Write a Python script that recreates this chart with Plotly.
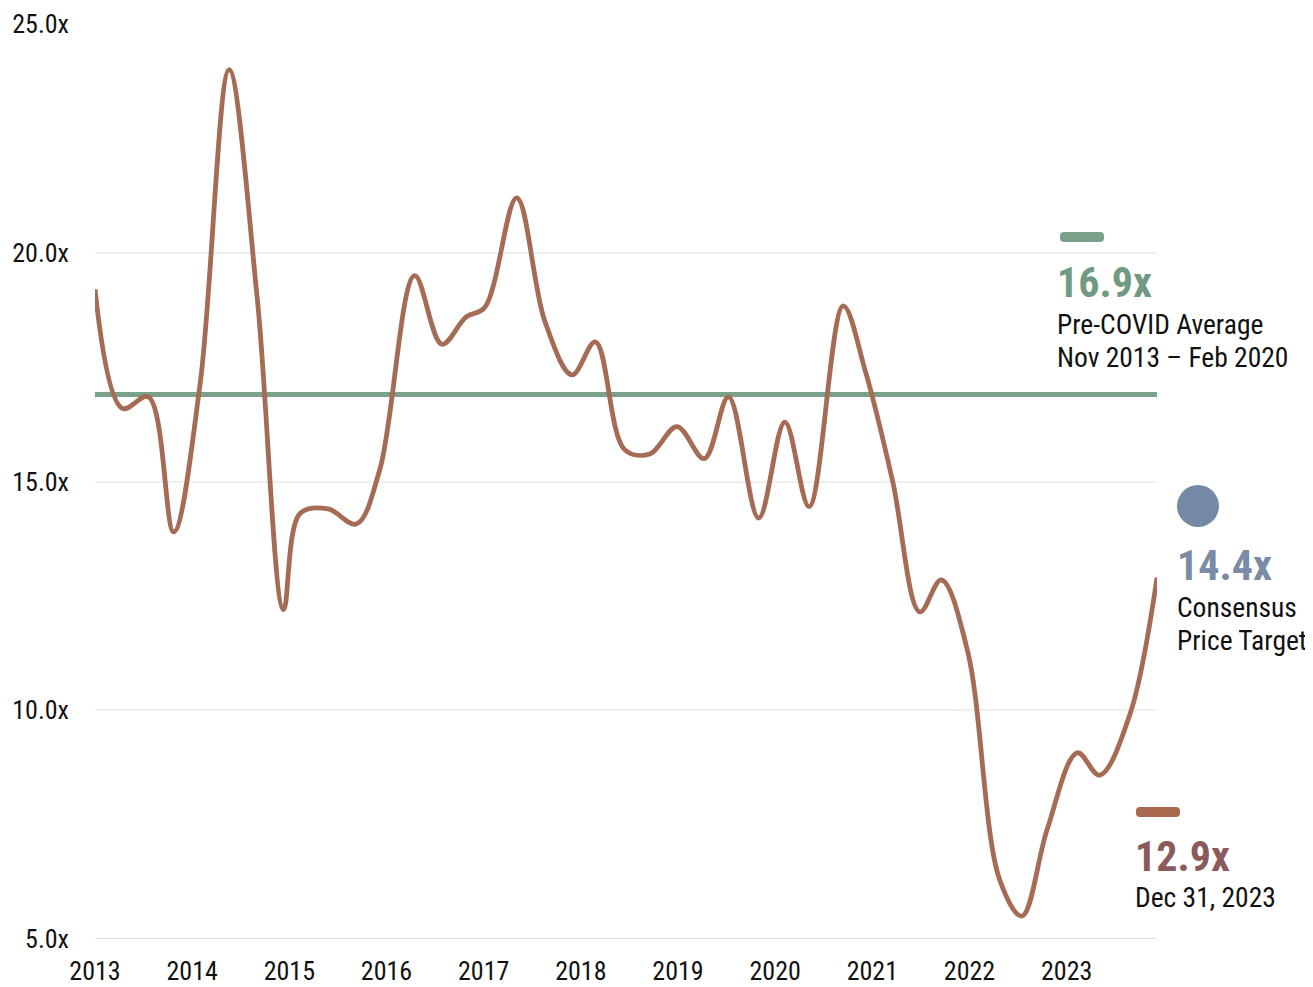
import plotly.graph_objects as go

# Decimal-year positions and P/E multiple values
years = [2013.00, 2013.28, 2013.55, 2013.81, 2014.08, 2014.38, 2014.67, 2014.94,
         2015.11, 2015.40, 2015.69, 2015.93, 2016.29, 2016.57, 2016.82, 2017.01,
         2017.34, 2017.63, 2017.91, 2018.15, 2018.45, 2018.71, 2018.99, 2019.27,
         2019.52, 2019.83, 2020.10, 2020.35, 2020.70, 2020.93, 2021.21, 2021.49,
         2021.71, 2021.98, 2022.31, 2022.54, 2022.80, 2023.11, 2023.34, 2023.65,
         2023.93]
multiples = [19.2, 16.6, 16.85, 13.9, 17.1, 24.0, 19.0, 12.2,
             14.3, 14.4, 14.07, 15.25, 19.5, 18.0, 18.6, 18.8,
             21.2, 18.5, 17.33, 18.05, 15.7, 15.6, 16.2, 15.5,
             16.85, 14.2, 16.3, 14.45, 18.84, 17.4, 15.0, 12.15,
             12.85, 11.3, 6.3, 5.5, 7.4, 9.07, 8.58, 9.9,
             12.9]

pre_covid_avg = 16.9
year_ticks = list(range(2013, 2024))
y_ticks = [5, 10, 15, 20, 25]
y_tick_labels = ["5.0x", "10.0x", "15.0x", "20.0x", "25.0x"]

FONT = "Roboto Condensed, Liberation Sans Narrow, sans-serif"
BROWN = "#a66b55"
GREEN = "#7aa28a"
BLUE = "#7489a3"

# the page body adds an 8px offset; layout is expressed in page pixels below
OFF = 8
PL, PR, PT, PB = 95, 1157, 24, 939   # plot area in page pixels

fig = go.Figure()
fig.add_trace(go.Scatter(
    x=[years[0], years[-1]], y=[pre_covid_avg, pre_covid_avg],
    mode="lines", line=dict(color=GREEN, width=5), hoverinfo="skip"))
fig.add_trace(go.Scatter(
    x=years, y=multiples, mode="lines",
    line=dict(color=BROWN, width=4.8, shape="spline", smoothing=1.0),
    hoverinfo="skip"))

def px2paper_x(px):
    return (px - PL) / (PR - PL)

def px2paper_y(py):
    return (PB - py) / (PB - PT)

def rounded_bar(x0, x1, y0, y1, r, color):
    # pixel box -> rounded rectangle path in paper coordinates
    X = px2paper_x
    Y = px2paper_y
    p = (f"M {X(x0 + r)},{Y(y0)} L {X(x1 - r)},{Y(y0)} Q {X(x1)},{Y(y0)} {X(x1)},{Y(y0 + r)} "
         f"L {X(x1)},{Y(y1 - r)} Q {X(x1)},{Y(y1)} {X(x1 - r)},{Y(y1)} "
         f"L {X(x0 + r)},{Y(y1)} Q {X(x0)},{Y(y1)} {X(x0)},{Y(y1 - r)} "
         f"L {X(x0)},{Y(y0 + r)} Q {X(x0)},{Y(y0)} {X(x0 + r)},{Y(y0)} Z")
    return dict(type="path", xref="paper", yref="paper", path=p,
                fillcolor=color, line=dict(width=0), layer="above")

shapes = [
    rounded_bar(1060, 1104, 232, 242, 4, GREEN),
    dict(type="circle", xref="paper", yref="paper",
         x0=px2paper_x(1177), x1=px2paper_x(1219), y0=px2paper_y(527), y1=px2paper_y(485),
         fillcolor=BLUE, line=dict(width=0), layer="above"),
    rounded_bar(1136, 1180, 807, 817, 4, "#a8694f"),
    dict(type="line", xref="paper", yref="y", x0=0, x1=1, y0=5, y1=5,
         line=dict(color="#dddddd", width=2), layer="below"),
]

def ann(text, px, py, size, color="#111111", bold=False):
    t = f"<b>{text}</b>" if bold else text
    return dict(text=t, xref="paper", yref="paper", x=px2paper_x(px), y=px2paper_y(py),
                xanchor="left", yanchor="middle", showarrow=False,
                xshift=-2, font=dict(family=FONT, size=size, color=color))

annotations = [
    ann("16.9x", 1057, 283, 42, "#6f9a7f", True),
    ann("Pre-COVID Average", 1057, 324, 27.5),
    ann("Nov 2013 – Feb 2020", 1057, 357, 27.5),
    ann("14.4x", 1177, 565, 42, "#7a8ca5", True),
    ann("Consensus", 1177, 607, 27.5),
    ann("Price Target", 1177, 640, 27.5),
    ann("12.9x", 1135, 856, 42, "#8a5b5a", True),
    ann("Dec 31, 2023", 1135, 897, 27.5),
]

W, H = 1313 - OFF, 987 - OFF
fig.update_layout(
    width=W, height=H,
    margin=dict(l=PL - OFF, r=W - (PR - OFF), t=PT - OFF, b=H - (PB - OFF)),
    paper_bgcolor="white", plot_bgcolor="white",
    showlegend=False,
    font=dict(family=FONT, size=26, color="#111111"),
    shapes=shapes, annotations=annotations,
    xaxis=dict(range=[2013.0, 2023.93], tickvals=year_ticks,
               ticktext=[str(y) for y in year_ticks],
               showgrid=False, zeroline=False, showline=False,
               ticks="", ticklabelstandoff=14, automargin=False,
               tickfont=dict(family=FONT, size=26, color="#111111")),
    yaxis=dict(range=[5, 25], tickvals=y_ticks, ticktext=y_tick_labels,
               showgrid=True, gridcolor="#efefef", gridwidth=2,
               zeroline=False, showline=False, ticks="",
               ticklabelstandoff=25, automargin=False,
               tickfont=dict(family=FONT, size=26, color="#111111")),
)

fig.write_html("out.html")
